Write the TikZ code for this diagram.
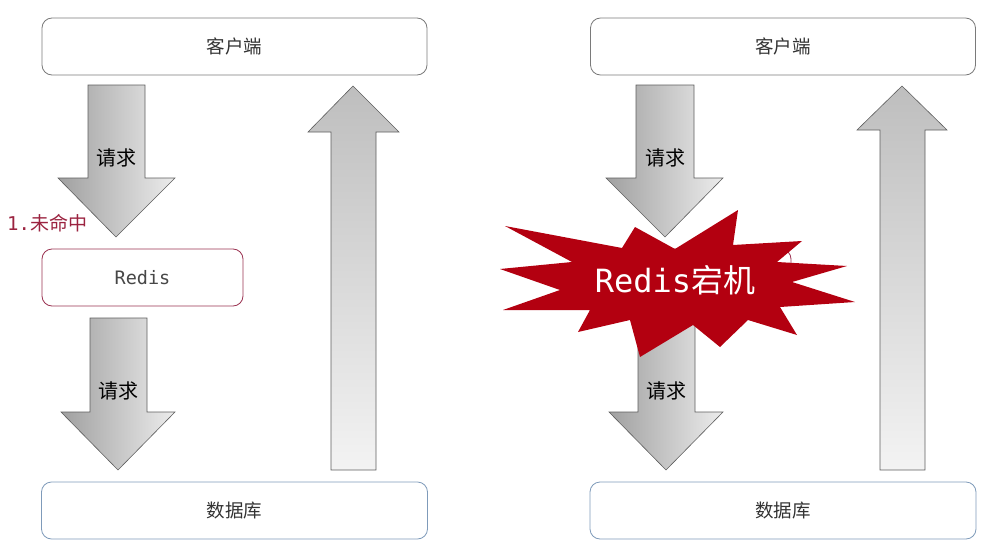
\documentclass[tikz,border=0pt]{standalone}
\usepackage{fontspec}
\setmainfont{Noto Sans CJK SC}
\newfontfamily\cjk{Noto Sans CJK SC}
\setmonofont{DejaVu Sans Mono}
\definecolor{txt}{HTML}{333333}
\definecolor{clientgray}{HTML}{7A7A7A}
\definecolor{redisred}{HTML}{9B3352}
\definecolor{dbblue}{HTML}{7F9BBA}
\definecolor{missred}{HTML}{9B2340}
\definecolor{starred}{HTML}{B30010}
\definecolor{arrdark}{HTML}{A0A0A0}
\definecolor{arrlight}{HTML}{ECECEC}
\definecolor{uptop}{HTML}{BEBEBE}
\definecolor{upbot}{HTML}{F3F3F3}
\definecolor{arrline}{HTML}{5E5E5E}
\begin{document}
\begin{tikzpicture}[x=1pt,y=-1pt,
  box/.style={rounded corners=10pt, line width=0.8pt, fill=white, inner sep=0pt,
    text=txt, font=\fontsize{18.5}{21}\selectfont},
  clientbox/.style={box, draw=clientgray, minimum width=385pt, minimum height=57pt},
  dbbox/.style={box, draw=dbblue, minimum width=386pt, minimum height=57pt},
  redisbox/.style={box, draw=redisred, minimum width=201pt, minimum height=57pt},
  downarr/.style={draw=arrline, line width=0.6pt, left color=arrdark, right color=arrlight},
  uparr/.style={draw=arrline, line width=0.6pt, top color=uptop, bottom color=upbot},
  arrlabel/.style={text=black, font=\fontsize{20}{22}\selectfont, inner sep=0pt},
]
\useasboundingbox (0,0) rectangle (997,554);

% ---------- left side ----------
\node[clientbox] (c1) at (234.5,46.5) {客户端};
\node[redisbox] (r1) at (142.5,277.5) {\ttfamily\color{txt!90}Redis};
\node[dbbox] (d1) at (234.5,510.5) {数据库};

\path[downarr] (88,85) -- (145,85) -- (145,178) -- (175,178) -- (116,237) -- (58,178) -- (88,178) -- cycle;
\node[arrlabel] (q1) at (116,158) {请求};
\path[downarr] (90,318) -- (147,318) -- (147,412) -- (175,412) -- (118,470) -- (61,412) -- (90,412) -- cycle;
\node[arrlabel] (q2) at (118,391) {请求};
\path[uparr] (331,470) -- (331,132) -- (308,132) -- (353,86) -- (399,132) -- (376,132) -- (376,470) -- cycle;

\node[anchor=west, text=missred, inner sep=0pt, font=\fontsize{19}{21}\selectfont] (miss) at (7,223) {{\ttfamily 1.}未命中};

% ---------- right side ----------
\node[clientbox] (c2) at (783,46.5) {客户端};
\node[redisbox] (r2) at (690.5,277.5) {};
\node[dbbox] (d2) at (783,510.5) {数据库};

\path[downarr] (636,85) -- (694,85) -- (694,178) -- (723,178) -- (665,237) -- (606,178) -- (636,178) -- cycle;
\node[arrlabel] (q3) at (665,158) {请求};
\path[downarr] (638,318) -- (695,318) -- (695,412) -- (723,412) -- (666,470) -- (609,412) -- (638,412) -- cycle;
\node[arrlabel] (q4) at (666,391) {请求};
\path[uparr] (880,470) -- (880,130) -- (857,130) -- (902,86) -- (947,130) -- (925,130) -- (925,470) -- cycle;

% starburst
\fill[starred] (505,226) -- (622,248) -- (635,227) -- (675,249) -- (738,210) -- (733,245)
  -- (802,241) -- (777,262) -- (847,266) -- (792,282) -- (855,302) -- (780,307)
  -- (797,335) -- (748,320) -- (720,347) -- (693,325) -- (640,357) -- (630,320)
  -- (578,332) -- (590,310) -- (503,310) -- (560,290) -- (500,269) -- (572,262) -- cycle;
\node[text=white, inner sep=0pt, font=\fontsize{32}{34}\selectfont] (crash) at (675,280) {{\ttfamily Redis}宕机};
\end{tikzpicture}
\end{document}
